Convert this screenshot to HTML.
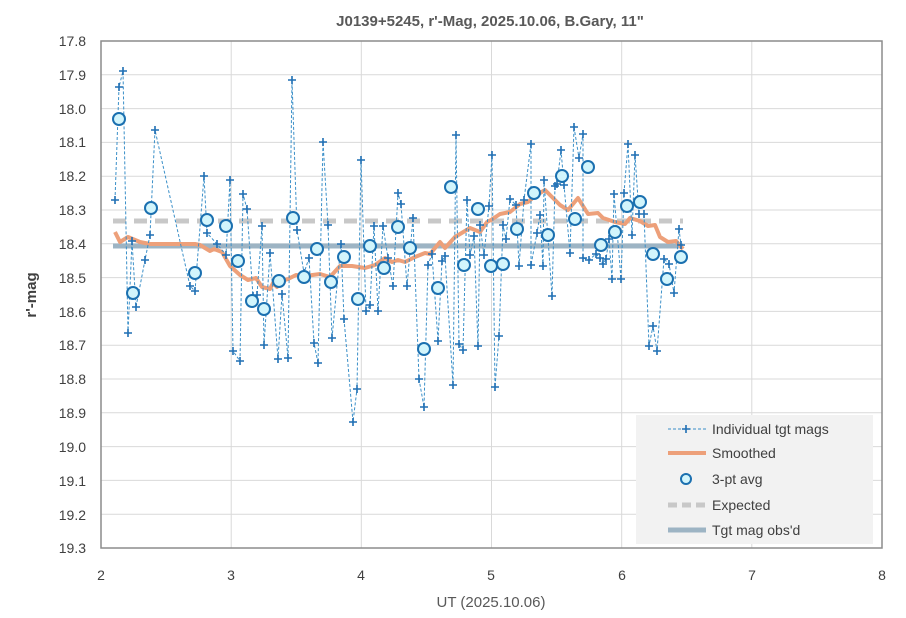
<!DOCTYPE html>
<html><head><meta charset="utf-8"><style>body{margin:0;background:#fff}svg{display:block;font-family:"Liberation Sans",sans-serif}</style></head><body>
<svg width="906" height="618" xmlns="http://www.w3.org/2000/svg">
<rect width="906" height="618" fill="#fff"/>
<text x="490" y="26" text-anchor="middle" font-size="15" font-weight="bold" fill="#595959">J0139+5245, r'-Mag, 2025.10.06, B.Gary, 11"</text>
<g stroke="#d9d9d9" stroke-width="1">
<line x1="101" x2="882" y1="74.8" y2="74.8"/><line x1="101" x2="882" y1="108.6" y2="108.6"/><line x1="101" x2="882" y1="142.4" y2="142.4"/><line x1="101" x2="882" y1="176.2" y2="176.2"/><line x1="101" x2="882" y1="210" y2="210"/><line x1="101" x2="882" y1="243.8" y2="243.8"/><line x1="101" x2="882" y1="277.6" y2="277.6"/><line x1="101" x2="882" y1="311.4" y2="311.4"/><line x1="101" x2="882" y1="345.2" y2="345.2"/><line x1="101" x2="882" y1="379" y2="379"/><line x1="101" x2="882" y1="412.8" y2="412.8"/><line x1="101" x2="882" y1="446.6" y2="446.6"/><line x1="101" x2="882" y1="480.4" y2="480.4"/><line x1="101" x2="882" y1="514.2" y2="514.2"/>
<line x1="231.2" x2="231.2" y1="41" y2="548"/><line x1="361.3" x2="361.3" y1="41" y2="548"/><line x1="491.5" x2="491.5" y1="41" y2="548"/><line x1="621.7" x2="621.7" y1="41" y2="548"/><line x1="751.8" x2="751.8" y1="41" y2="548"/>
</g>
<rect x="101" y="41" width="781" height="507" fill="none" stroke="#8c8c8c" stroke-width="1.5"/>
<g font-size="14" fill="#404040" text-anchor="end">
<text x="86" y="46">17.8</text><text x="86" y="80">17.9</text><text x="86" y="114">18.0</text><text x="86" y="147">18.1</text><text x="86" y="181">18.2</text><text x="86" y="215">18.3</text><text x="86" y="249">18.4</text><text x="86" y="283">18.5</text><text x="86" y="317">18.6</text><text x="86" y="350">18.7</text><text x="86" y="384">18.8</text><text x="86" y="418">18.9</text><text x="86" y="452">19.0</text><text x="86" y="486">19.1</text><text x="86" y="520">19.2</text><text x="86" y="553">19.3</text>
</g>
<g font-size="14" fill="#404040" text-anchor="middle">
<text x="101" y="580">2</text><text x="231" y="580">3</text><text x="361" y="580">4</text><text x="491" y="580">5</text><text x="622" y="580">6</text><text x="752" y="580">7</text><text x="882" y="580">8</text>
<text x="491" y="607" font-size="15" fill="#595959">UT (2025.10.06)</text>
</g>
<text transform="translate(36,295) rotate(-90)" text-anchor="middle" font-size="15" font-weight="bold" fill="#404040">r'-mag</text>
<line x1="113" x2="683" y1="221" y2="221" stroke="#c8c8c8" stroke-width="5" stroke-dasharray="13,8"/>
<line x1="113" x2="683" y1="246" y2="246" stroke="#9db4c4" stroke-width="5"/>
<polyline fill="none" stroke="#eda07a" stroke-width="4" stroke-linejoin="round" points="115,232 120,242 128,237 140,242 150,244 160,244 195,244 200,245 210,251 214,249 222,252 230,266 240,275 248,280 256,278 262,287 270,289 273,283 277,287 282,281 288,279 296,275 305,276 320,274 330,277 340,266 352,266 365,268 375,265 385,258 392,262 398,260 405,262 415,257 425,253 430,254 440,242 445,248 455,237 470,228 480,232 487,222 491,220 500,214 510,212 520,204 528,202 535,196 545,190 552,197 560,205 568,210 578,198 588,214 598,213 603,218 615,222 625,224 630,218 640,221 648,226 655,225 660,237 668,242 676,241 683,249"/>
<polyline fill="none" stroke="#3a8fc8" stroke-width="1" stroke-dasharray="3,2" points="115,200 119,87 123,71 128,333 132,241 136,307 145,260 150,235 155,130 190,286 195,291 204,176 207,233 217,244 226,255 230,180 233,351 240,361 243,194 247,209 253,296 257,295 262,226 264,345 270,253 278,359 282,294 288,358 292,80 297,230 304,273 309,258 314,343 318,363 323,142 328,225 332,338 341,244 344,319 353,422 357,389 361,160 366,311 370,305 374,226 378,311 383,226 388,258 393,286 398,193 401,204 407,286 413,218 419,379 424,407 428,265 432,254 438,341 442,261 445,256 453,385 456,135 459,344 463,350 467,200 470,255 474,236 478,346 480,225 484,255 489,206 492,155 495,387 499,336 503,225 506,239 510,199 516,205 519,266 524,200 531,144 531,265 537,233 540,215 543,266 544,180 552,296 555,186 557,184 561,150 564,185 570,253 574,127 579,158 583,134 583,258 589,260 596,254 600,258 603,264 606,259 609,239 612,279 614,194 621,279 624,193 628,144 632,235 635,155 639,214 644,214 649,346 653,326 657,351 664,259 669,264 674,293 679,229 681,245"/>
<g id="plus" stroke="#1f6fb4" stroke-width="1.6"></g>
<g id="circ" fill="#d2f5fc" stroke="#1b70b0" stroke-width="2"></g>
<rect x="636" y="415" width="237" height="129" fill="#f2f2f2"/>
<g font-size="14" fill="#404040">
<line x1="668" x2="706" y1="429" y2="429" stroke="#3a8fc8" stroke-dasharray="3,2"/>
<path d="M682 429h8M686 425v8" stroke="#1f6fb4" stroke-width="1.6"/>
<text x="712" y="434">Individual tgt mags</text>
<line x1="668" x2="706" y1="453" y2="453" stroke="#eda07a" stroke-width="4"/>
<text x="712" y="458">Smoothed</text>
<circle cx="686" cy="479" r="5" fill="#d2f5fc" stroke="#1b70b0" stroke-width="2"/>
<text x="712" y="484">3-pt avg</text>
<line x1="668" x2="706" y1="505" y2="505" stroke="#c8c8c8" stroke-width="5" stroke-dasharray="9,5"/>
<text x="712" y="510">Expected</text>
<line x1="668" x2="706" y1="530" y2="530" stroke="#9db4c4" stroke-width="5"/>
<text x="712" y="535">Tgt mag obs'd</text>
</g>
<script>
var pts="115,200 119,87 123,71 128,333 132,241 136,307 145,260 150,235 155,130 190,286 195,291 204,176 207,233 217,244 226,255 230,180 233,351 240,361 243,194 247,209 253,296 257,295 262,226 264,345 270,253 278,359 282,294 288,358 292,80 297,230 304,273 309,258 314,343 318,363 323,142 328,225 332,338 341,244 344,319 353,422 357,389 361,160 366,311 370,305 374,226 378,311 383,226 388,258 393,286 398,193 401,204 407,286 413,218 419,379 424,407 428,265 432,254 438,341 442,261 445,256 453,385 456,135 459,344 463,350 467,200 470,255 474,236 478,346 480,225 484,255 489,206 492,155 495,387 499,336 503,225 506,239 510,199 516,205 519,266 524,200 531,144 531,265 537,233 540,215 543,266 544,180 552,296 555,186 557,184 561,150 564,185 570,253 574,127 579,158 583,134 583,258 589,260 596,254 600,258 603,264 606,259 609,239 612,279 614,194 621,279 624,193 628,144 632,235 635,155 639,214 644,214 649,346 653,326 657,351 664,259 669,264 674,293 679,229 681,245".split(" ");
var ns="http://www.w3.org/2000/svg",g=document.getElementById("plus"),d="";
pts.forEach(function(p){var a=p.split(",");d+="M"+(a[0]-4)+" "+a[1]+"h8M"+a[0]+" "+(a[1]-4)+"v8";});
var pa=document.createElementNS(ns,"path");pa.setAttribute("d",d);g.appendChild(pa);
var c="119,119 133,293 151,208 195,273 207,220 226,226 238,261 252,301 264,309 279,281 293,218 304,277 317,249 331,282 344,257 358,299 370,246 384,268 398,227 410,248 424,349 438,288 451,187 464,265 478,209 491,266 503,264 517,229 534,193 548,235 562,176 575,219 588,167 601,245 615,232 627,206 640,202 653,254 667,279 681,257".split(" ");
var gc=document.getElementById("circ");
c.forEach(function(p){var a=p.split(","),e=document.createElementNS(ns,"circle");e.setAttribute("cx",a[0]);e.setAttribute("cy",a[1]);e.setAttribute("r","6");gc.appendChild(e);});
</script>
</svg>
</body></html>
